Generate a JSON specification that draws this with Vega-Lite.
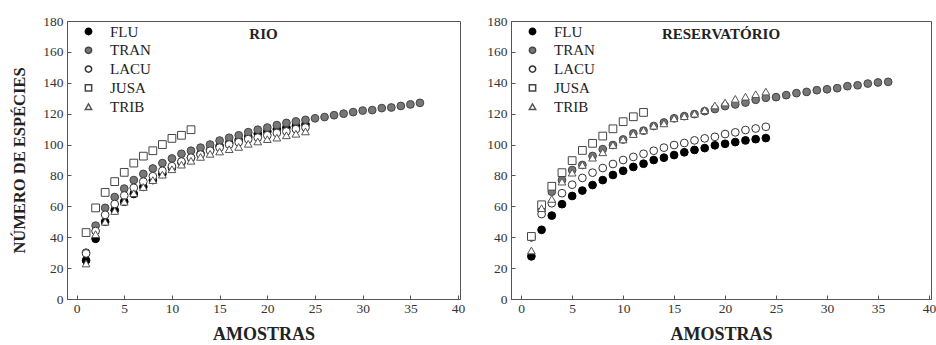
{
  "$schema": "https://vega.github.io/schema/vega-lite/v6.json",
  "background": "white",
  "padding": {"left": 11, "top": 13, "right": 5, "bottom": 2},
  "config": {
    "font": "Liberation Serif",
    "view": {"stroke": "#555", "strokeWidth": 1},
    "axis": {"labelFont": "Liberation Serif", "labelFontSize": 13.5, "labelColor": "#333", "titleFont": "Liberation Serif", "titleFontWeight": "bold", "titleColor": "#222", "grid": false, "domainColor": "#555", "tickColor": "#555", "tickSize": -4},
    "legend": {"labelFont": "Liberation Serif", "labelFontSize": 15, "labelColor": "#222"},
    "title": {"font": "Liberation Serif", "fontWeight": "bold", "fontSize": 15, "color": "#222"}
  },
  "datasets": {
    "rio": [
      {"a":1,"s":"FLU","v":25},{"a":2,"s":"FLU","v":39},{"a":3,"s":"FLU","v":50},{"a":4,"s":"FLU","v":57.5},{"a":5,"s":"FLU","v":63},{"a":6,"s":"FLU","v":68},{"a":7,"s":"FLU","v":72.6},{"a":8,"s":"FLU","v":77},{"a":9,"s":"FLU","v":81},{"a":10,"s":"FLU","v":85},{"a":11,"s":"FLU","v":88.5},{"a":12,"s":"FLU","v":91.5},{"a":13,"s":"FLU","v":94},{"a":14,"s":"FLU","v":96.5},{"a":15,"s":"FLU","v":99},{"a":16,"s":"FLU","v":101},{"a":17,"s":"FLU","v":103},{"a":18,"s":"FLU","v":105},{"a":19,"s":"FLU","v":107},{"a":20,"s":"FLU","v":108.5},{"a":21,"s":"FLU","v":110},{"a":22,"s":"FLU","v":111},{"a":23,"s":"FLU","v":112},{"a":24,"s":"FLU","v":113},
      {"a":1,"s":"TRAN","v":30},{"a":2,"s":"TRAN","v":47.5},{"a":3,"s":"TRAN","v":59},{"a":4,"s":"TRAN","v":66},{"a":5,"s":"TRAN","v":71.5},{"a":6,"s":"TRAN","v":77},{"a":7,"s":"TRAN","v":81},{"a":8,"s":"TRAN","v":84.5},{"a":9,"s":"TRAN","v":88},{"a":10,"s":"TRAN","v":91},{"a":11,"s":"TRAN","v":94},{"a":12,"s":"TRAN","v":96},{"a":13,"s":"TRAN","v":98},{"a":14,"s":"TRAN","v":100},{"a":15,"s":"TRAN","v":102.6},{"a":16,"s":"TRAN","v":104.4},{"a":17,"s":"TRAN","v":106},{"a":18,"s":"TRAN","v":108},{"a":19,"s":"TRAN","v":109.6},{"a":20,"s":"TRAN","v":111},{"a":21,"s":"TRAN","v":112.6},{"a":22,"s":"TRAN","v":114},{"a":23,"s":"TRAN","v":115},{"a":24,"s":"TRAN","v":116},{"a":25,"s":"TRAN","v":117},{"a":26,"s":"TRAN","v":117.8},{"a":27,"s":"TRAN","v":119},{"a":28,"s":"TRAN","v":120},{"a":29,"s":"TRAN","v":121},{"a":30,"s":"TRAN","v":122},{"a":31,"s":"TRAN","v":122.3},{"a":32,"s":"TRAN","v":123.6},{"a":33,"s":"TRAN","v":124},{"a":34,"s":"TRAN","v":125},{"a":35,"s":"TRAN","v":126},{"a":36,"s":"TRAN","v":127},
      {"a":1,"s":"LACU","v":29.5},{"a":2,"s":"LACU","v":44},{"a":3,"s":"LACU","v":54.5},{"a":4,"s":"LACU","v":61.5},{"a":5,"s":"LACU","v":67},{"a":6,"s":"LACU","v":72},{"a":7,"s":"LACU","v":76},{"a":8,"s":"LACU","v":79.5},{"a":9,"s":"LACU","v":83},{"a":10,"s":"LACU","v":86},{"a":11,"s":"LACU","v":89},{"a":12,"s":"LACU","v":91.5},{"a":13,"s":"LACU","v":93.5},{"a":14,"s":"LACU","v":96},{"a":15,"s":"LACU","v":98},{"a":16,"s":"LACU","v":100},{"a":17,"s":"LACU","v":101.5},{"a":18,"s":"LACU","v":103.5},{"a":19,"s":"LACU","v":104.5},{"a":20,"s":"LACU","v":106},{"a":21,"s":"LACU","v":107.5},{"a":22,"s":"LACU","v":108.5},{"a":23,"s":"LACU","v":110},{"a":24,"s":"LACU","v":111},
      {"a":1,"s":"JUSA","v":43},{"a":2,"s":"JUSA","v":59},{"a":3,"s":"JUSA","v":69},{"a":4,"s":"JUSA","v":76},{"a":5,"s":"JUSA","v":82},{"a":6,"s":"JUSA","v":88},{"a":7,"s":"JUSA","v":92.5},{"a":8,"s":"JUSA","v":96},{"a":9,"s":"JUSA","v":100},{"a":10,"s":"JUSA","v":104},{"a":11,"s":"JUSA","v":106},{"a":12,"s":"JUSA","v":109.6},
      {"a":1,"s":"TRIB","v":23},{"a":2,"s":"TRIB","v":42},{"a":3,"s":"TRIB","v":50},{"a":4,"s":"TRIB","v":57},{"a":5,"s":"TRIB","v":63},{"a":6,"s":"TRIB","v":68.5},{"a":7,"s":"TRIB","v":72.5},{"a":8,"s":"TRIB","v":77},{"a":9,"s":"TRIB","v":80.5},{"a":10,"s":"TRIB","v":84},{"a":11,"s":"TRIB","v":87},{"a":12,"s":"TRIB","v":89.5},{"a":13,"s":"TRIB","v":92},{"a":14,"s":"TRIB","v":94},{"a":15,"s":"TRIB","v":95.5},{"a":16,"s":"TRIB","v":97},{"a":17,"s":"TRIB","v":98.5},{"a":18,"s":"TRIB","v":100.5},{"a":19,"s":"TRIB","v":102},{"a":20,"s":"TRIB","v":103.5},{"a":21,"s":"TRIB","v":104.5},{"a":22,"s":"TRIB","v":106},{"a":23,"s":"TRIB","v":107},{"a":24,"s":"TRIB","v":108.5}
    ],
    "res": [
      {"a":1,"s":"FLU","v":27.6},{"a":2,"s":"FLU","v":44.8},{"a":3,"s":"FLU","v":54},{"a":4,"s":"FLU","v":61.4},{"a":5,"s":"FLU","v":66.7},{"a":6,"s":"FLU","v":70.2},{"a":7,"s":"FLU","v":73.8},{"a":8,"s":"FLU","v":77},{"a":9,"s":"FLU","v":80.3},{"a":10,"s":"FLU","v":83},{"a":11,"s":"FLU","v":85.5},{"a":12,"s":"FLU","v":87.6},{"a":13,"s":"FLU","v":90},{"a":14,"s":"FLU","v":91.5},{"a":15,"s":"FLU","v":93.2},{"a":16,"s":"FLU","v":95},{"a":17,"s":"FLU","v":96.5},{"a":18,"s":"FLU","v":97.7},{"a":19,"s":"FLU","v":99.5},{"a":20,"s":"FLU","v":100.5},{"a":21,"s":"FLU","v":101.6},{"a":22,"s":"FLU","v":102.7},{"a":23,"s":"FLU","v":103.5},{"a":24,"s":"FLU","v":104.2},
      {"a":1,"s":"TRAN","v":40},{"a":2,"s":"TRAN","v":57.7},{"a":3,"s":"TRAN","v":69.5},{"a":4,"s":"TRAN","v":77},{"a":5,"s":"TRAN","v":83.5},{"a":6,"s":"TRAN","v":86.8},{"a":7,"s":"TRAN","v":92.6},{"a":8,"s":"TRAN","v":97},{"a":9,"s":"TRAN","v":99.7},{"a":10,"s":"TRAN","v":103.3},{"a":11,"s":"TRAN","v":107.2},{"a":12,"s":"TRAN","v":109},{"a":13,"s":"TRAN","v":112},{"a":14,"s":"TRAN","v":114.3},{"a":15,"s":"TRAN","v":117},{"a":16,"s":"TRAN","v":118.4},{"a":17,"s":"TRAN","v":119.7},{"a":18,"s":"TRAN","v":121.6},{"a":19,"s":"TRAN","v":123},{"a":20,"s":"TRAN","v":124.9},{"a":21,"s":"TRAN","v":126},{"a":22,"s":"TRAN","v":127.2},{"a":23,"s":"TRAN","v":129},{"a":24,"s":"TRAN","v":130.3},{"a":25,"s":"TRAN","v":130.7},{"a":26,"s":"TRAN","v":132},{"a":27,"s":"TRAN","v":133.3},{"a":28,"s":"TRAN","v":134.1},{"a":29,"s":"TRAN","v":135.2},{"a":30,"s":"TRAN","v":135.8},{"a":31,"s":"TRAN","v":136.5},{"a":32,"s":"TRAN","v":137.8},{"a":33,"s":"TRAN","v":138.4},{"a":34,"s":"TRAN","v":139.5},{"a":35,"s":"TRAN","v":140.2},{"a":36,"s":"TRAN","v":140.6},
      {"a":1,"s":"LACU","v":40},{"a":2,"s":"LACU","v":55},{"a":3,"s":"LACU","v":62},{"a":4,"s":"LACU","v":68.5},{"a":5,"s":"LACU","v":74},{"a":6,"s":"LACU","v":78.4},{"a":7,"s":"LACU","v":81.8},{"a":8,"s":"LACU","v":84.8},{"a":9,"s":"LACU","v":87.4},{"a":10,"s":"LACU","v":90},{"a":11,"s":"LACU","v":92},{"a":12,"s":"LACU","v":94},{"a":13,"s":"LACU","v":96},{"a":14,"s":"LACU","v":98},{"a":15,"s":"LACU","v":99.7},{"a":16,"s":"LACU","v":101},{"a":17,"s":"LACU","v":102.7},{"a":18,"s":"LACU","v":104},{"a":19,"s":"LACU","v":105},{"a":20,"s":"LACU","v":106.8},{"a":21,"s":"LACU","v":107.9},{"a":22,"s":"LACU","v":109.4},{"a":23,"s":"LACU","v":110.4},{"a":24,"s":"LACU","v":111.5},
      {"a":1,"s":"JUSA","v":40.5},{"a":2,"s":"JUSA","v":61},{"a":3,"s":"JUSA","v":73},{"a":4,"s":"JUSA","v":81.8},{"a":5,"s":"JUSA","v":89.6},{"a":6,"s":"JUSA","v":96.2},{"a":7,"s":"JUSA","v":100.8},{"a":8,"s":"JUSA","v":105.5},{"a":9,"s":"JUSA","v":110.2},{"a":10,"s":"JUSA","v":114.8},{"a":11,"s":"JUSA","v":118},{"a":12,"s":"JUSA","v":120.8},
      {"a":1,"s":"TRIB","v":31.4},{"a":2,"s":"TRIB","v":58.8},{"a":3,"s":"TRIB","v":64.8},{"a":4,"s":"TRIB","v":76},{"a":5,"s":"TRIB","v":81.8},{"a":6,"s":"TRIB","v":86.8},{"a":7,"s":"TRIB","v":91.5},{"a":8,"s":"TRIB","v":95},{"a":9,"s":"TRIB","v":99.7},{"a":10,"s":"TRIB","v":103.3},{"a":11,"s":"TRIB","v":106.8},{"a":12,"s":"TRIB","v":109.2},{"a":13,"s":"TRIB","v":112.2},{"a":14,"s":"TRIB","v":113.7},{"a":15,"s":"TRIB","v":117},{"a":16,"s":"TRIB","v":118.4},{"a":17,"s":"TRIB","v":120},{"a":18,"s":"TRIB","v":122.3},{"a":19,"s":"TRIB","v":125.3},{"a":20,"s":"TRIB","v":127.2},{"a":21,"s":"TRIB","v":129.6},{"a":22,"s":"TRIB","v":131},{"a":23,"s":"TRIB","v":132.6},{"a":24,"s":"TRIB","v":134.3}
    ]
  },
  "spacing": 20,
  "resolve": {"legend": {"shape": "independent", "fill": "independent", "stroke": "independent"}, "scale": {"shape": "independent", "fill": "independent", "stroke": "independent"}},
  "hconcat": [
    {
      "width": 393, "height": 278,
      "data": {"name": "rio"},
      "title": {"text": "RIO", "offset": -28, "anchor": "middle", "baseline": "top", "font": "Liberation Serif", "fontWeight": "bold", "fontSize": 15},
      "mark": {"type": "point", "filled": true, "size": 60, "strokeWidth": 1, "opacity": 1},
      "encoding": {
        "x": {"field": "a", "type": "quantitative", "scale": {"domain": [-1, 40.2], "nice": false, "zero": false}, "axis": {"values": [0,5,10,15,20,25,30,35,40], "title": "AMOSTRAS", "labelFont": "Liberation Serif", "titleFont": "Liberation Serif", "titleFontSize": 18, "labelPadding": 6, "titlePadding": 11}},
        "y": {"field": "v", "type": "quantitative", "scale": {"domain": [0, 180], "nice": false}, "axis": {"values": [0,20,40,60,80,100,120,140,160,180], "title": "NÚMERO DE ESPÉCIES", "labelFont": "Liberation Serif", "titleFont": "Liberation Serif", "titleFontSize": 16.5, "labelPadding": 8, "titlePadding": 15}},
        "shape": {"field": "s", "type": "nominal", "sort": null, "scale": {"domain": ["FLU","TRAN","LACU","JUSA","TRIB"], "range": ["circle","circle","circle","square","triangle-up"]}, "legend": {"title": null, "orient": "none", "legendX": 14, "legendY": 3, "padding": 0, "symbolSize": 40, "rowPadding": 2.8, "labelOffset": 14}},
        "fill": {"field": "s", "type": "nominal", "sort": null, "scale": {"domain": ["FLU","TRAN","LACU","JUSA","TRIB"], "range": ["#000000","#777777","#ffffff","#ffffff","#ffffff"]}, "legend": {"title": null, "orient": "none", "legendX": 14, "legendY": 3, "padding": 0, "symbolSize": 40, "rowPadding": 2.8, "labelOffset": 14}},
        "stroke": {"field": "s", "type": "nominal", "sort": null, "scale": {"domain": ["FLU","TRAN","LACU","JUSA","TRIB"], "range": ["#000000","#444444","#333333","#444444","#555555"]}, "legend": {"title": null, "orient": "none", "legendX": 14, "legendY": 3, "padding": 0, "symbolSize": 40, "rowPadding": 2.8, "labelOffset": 14}}
      }
    },
    {
      "width": 420, "height": 278,
      "data": {"name": "res"},
      "title": {"text": "RESERVATÓRIO", "offset": -28, "anchor": "middle", "baseline": "top", "font": "Liberation Serif", "fontWeight": "bold", "fontSize": 15},
      "mark": {"type": "point", "filled": true, "size": 60, "strokeWidth": 1, "opacity": 1},
      "encoding": {
        "x": {"field": "a", "type": "quantitative", "scale": {"domain": [-1, 40.2], "nice": false, "zero": false}, "axis": {"values": [0,5,10,15,20,25,30,35,40], "title": "AMOSTRAS", "labelFont": "Liberation Serif", "titleFont": "Liberation Serif", "titleFontSize": 18, "labelPadding": 6, "titlePadding": 11}},
        "y": {"field": "v", "type": "quantitative", "scale": {"domain": [0, 180], "nice": false}, "axis": {"values": [0,20,40,60,80,100,120,140,160,180], "title": null, "labelFont": "Liberation Serif", "labelPadding": 8}},
        "shape": {"field": "s", "type": "nominal", "sort": null, "scale": {"domain": ["FLU","TRAN","LACU","JUSA","TRIB"], "range": ["circle","circle","circle","square","triangle-up"]}, "legend": {"title": null, "orient": "none", "legendX": 14, "legendY": 3, "padding": 0, "symbolSize": 40, "rowPadding": 2.8, "labelOffset": 14}},
        "fill": {"field": "s", "type": "nominal", "sort": null, "scale": {"domain": ["FLU","TRAN","LACU","JUSA","TRIB"], "range": ["#000000","#777777","#ffffff","#ffffff","#ffffff"]}, "legend": {"title": null, "orient": "none", "legendX": 14, "legendY": 3, "padding": 0, "symbolSize": 40, "rowPadding": 2.8, "labelOffset": 14}},
        "stroke": {"field": "s", "type": "nominal", "sort": null, "scale": {"domain": ["FLU","TRAN","LACU","JUSA","TRIB"], "range": ["#000000","#444444","#333333","#444444","#555555"]}, "legend": {"title": null, "orient": "none", "legendX": 14, "legendY": 3, "padding": 0, "symbolSize": 40, "rowPadding": 2.8, "labelOffset": 14}}
      }
    }
  ]
}
